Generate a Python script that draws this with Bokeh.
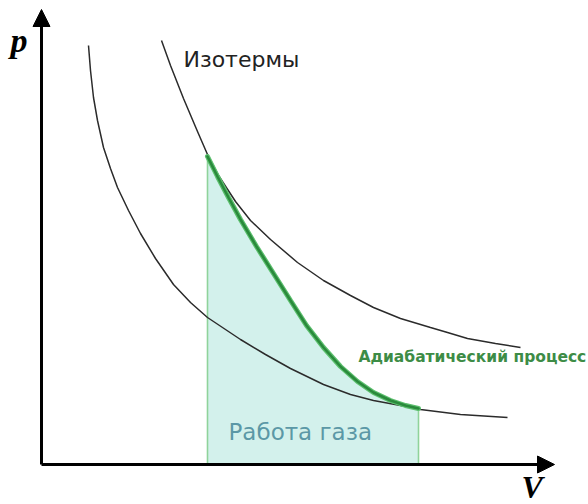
from bokeh.plotting import figure
from bokeh.models import Range1d, Arrow, NormalHead, Label
from bokeh.embed import file_html
from bokeh.resources import INLINE

# --- data (V, p in drawing units) ---
outer_V = [120, 129, 142, 156, 166, 177, 194, 209, 229, 256, 282, 309, 332, 359, 389, 406, 426, 454, 479]
outer_p = [424, 399, 366, 333, 310, 289, 263, 244, 225, 202, 184, 169, 157, 146, 137, 132, 126, 121, 117]

inner_V = [47, 49, 52, 56, 62, 69, 76, 87, 99, 114, 132, 149, 166, 184, 199, 224, 249, 282, 309, 332, 359, 379, 419, 466]
inner_p = [419, 394, 367, 344, 317, 296, 277, 254, 231, 206, 180, 162, 147, 135, 125, 110, 96, 80, 70, 64, 59, 55, 50, 47]

adiab_V = [166, 176, 187, 199, 215, 232, 249, 265, 282, 299, 316, 332, 349, 364, 377]
adiab_p = [308, 288, 267, 245, 218, 191, 164, 139, 117, 98, 83, 72, 64, 59, 56]

label_iso = "Изотермы"
label_adiab = "Адиабатический процесс"
label_work = "Работа газа"
label_p = "p"
label_V = "V"

p = figure(width=588, height=504, output_backend="svg", toolbar_location=None,
           x_range=Range1d(-41, 547), y_range=Range1d(-40, 464),
           min_border=0, outline_line_color=None)
p.axis.visible = False
p.grid.visible = False
p.background_fill_color = "white"

# work area
p.varea(x=adiab_V, y1=[0] * len(adiab_V), y2=adiab_p, fill_color="#d3f1ec")
p.segment(x0=[adiab_V[0], adiab_V[-1]], y0=[0, 0], x1=[adiab_V[0], adiab_V[-1]],
          y1=[adiab_p[0], adiab_p[-1]], line_color="#8fd39b", line_width=1.6)

# isotherms
p.line(outer_V, outer_p, line_color="#2b2b2b", line_width=1.5)
p.line(inner_V, inner_p, line_color="#2b2b2b", line_width=1.5)

# adiabat
p.line(adiab_V, adiab_p, line_color="#5cbf6e", line_width=5, line_cap="round")
p.line(adiab_V, adiab_p, line_color="#2a8a3c", line_width=2.6, line_cap="round")

# axes
p.add_layout(Arrow(end=NormalHead(size=17, fill_color="black", line_color="black", line_width=1),
                   x_start=0, y_start=0, x_end=513, y_end=0, line_width=3, line_color="black"))
p.add_layout(Arrow(end=NormalHead(size=17, fill_color="black", line_color="black", line_width=1),
                   x_start=0, y_start=0, x_end=0, y_end=455, line_width=3, line_color="black"))

# labels
p.add_layout(Label(x=142, y=405, text=label_iso, text_font="DejaVu Sans", text_font_size="22px",
                   text_color="#222222", text_baseline="alphabetic"))
p.add_layout(Label(x=317, y=108, text=label_adiab, text_font="DejaVu Sans", text_font_size="15.5px",
                   text_font_style="bold", text_color="#3d8c46", text_baseline="alphabetic"))
p.add_layout(Label(x=187, y=33, text=label_work, text_font="DejaVu Sans", text_font_size="23px",
                   text_color="#5b98a6", text_baseline="alphabetic"))
p.add_layout(Label(x=-31, y=424, text=label_p, text_font="Liberation Serif", text_font_size="34px",
                   text_font_style="bold italic", text_color="black", text_baseline="alphabetic"))
p.add_layout(Label(x=480, y=-22, text=label_V, text_font="Liberation Serif", text_font_size="32px",
                   text_font_style="bold italic", text_color="black", text_baseline="alphabetic"))

open("out.html", "w").write(file_html(p, INLINE))
